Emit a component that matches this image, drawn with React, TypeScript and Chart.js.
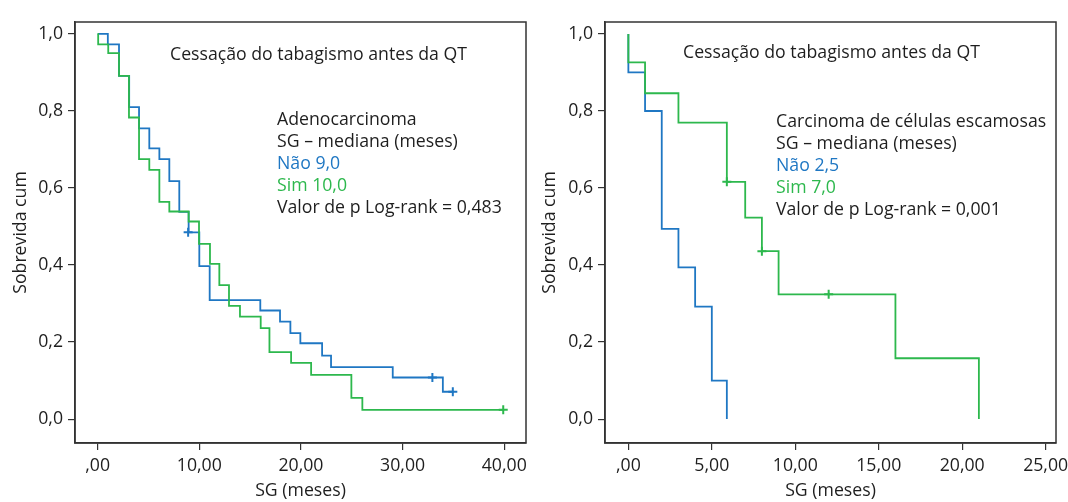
import React, { useEffect, useRef } from "react";
import { Chart, registerables } from "chart.js";

Chart.register(...registerables);

const FONT_FAMILY = "'Open Sans', sans-serif";
const FONT_SIZE = 17.7;
const BLUE = "#1f77c3";
const GREEN = "#2db84d";
const TEXT = "#1e1e1e";
const AXIS = "#333333";

// ---------- Shared ticks ----------
const yTickValues = [0, 0.2, 0.4, 0.6, 0.8, 1.0];
const leftXTickValues = [0, 10, 20, 30, 40];
const rightXTickValues = [0, 5, 10, 15, 20, 25];

// ---------- Left panel: Adenocarcinoma ----------
const adenoNaoTimes = [0, 1.0, 2.1, 3.1, 4.07, 5.08, 6.07, 7.05, 8.03, 8.95, 10.0, 11.02, 16.0, 17.94, 18.96, 19.94, 22.08, 22.96, 29.03, 33.96, 35.0];
const adenoNaoSurv = [1.0, 0.973, 0.891, 0.81, 0.755, 0.703, 0.675, 0.618, 0.538, 0.485, 0.397, 0.309, 0.282, 0.253, 0.223, 0.197, 0.165, 0.135, 0.108, 0.071, 0.071];
const adenoNaoCensorTimes = [8.9, 32.93, 34.94];
const adenoNaoCensorSurv = [0.485, 0.108, 0.071];

const adenoSimTimes = [0, 0.05, 1.04, 2.1, 3.08, 4.07, 5.08, 6.07, 7.05, 8.95, 9.97, 11.05, 11.97, 12.92, 14.0, 16.04, 16.9, 19.03, 21.0, 24.96, 26.04, 40.0];
const adenoSimSurv = [1.0, 0.973, 0.95, 0.891, 0.783, 0.675, 0.647, 0.564, 0.539, 0.513, 0.455, 0.403, 0.348, 0.294, 0.266, 0.236, 0.174, 0.146, 0.115, 0.055, 0.024, 0.024];
const adenoSimCensorTimes = [39.9];
const adenoSimCensorSurv = [0.024];

const adenoTexts = [
  "Adenocarcinoma",
  "SG \u2013 mediana (meses)",
  "N\u00e3o 9,0",
  "Sim 10,0",
  "Valor de p Log-rank = 0,483",
];

// ---------- Right panel: Carcinoma de células escamosas ----------
const escNaoTimes = [0, 0, 1, 2, 3, 4, 5, 5.9];
const escNaoSurv = [1.0, 0.9, 0.8, 0.494, 0.394, 0.292, 0.1, 0.0];
const escNaoCensorTimes: number[] = [];
const escNaoCensorSurv: number[] = [];

const escSimTimes = [0, 0, 1, 3, 5.9, 7, 8, 9, 16, 21];
const escSimSurv = [1.0, 0.926, 0.846, 0.77, 0.616, 0.523, 0.436, 0.324, 0.158, 0.0];
const escSimCensorTimes = [5.9, 8, 12];
const escSimCensorSurv = [0.616, 0.436, 0.324];

const escTexts = [
  "Carcinoma de c\u00e9lulas escamosas",
  "SG \u2013 mediana (meses)",
  "N\u00e3o 2,5",
  "Sim 7,0",
  "Valor de p Log-rank = 0,001",
];

const titleText = "Cessa\u00e7\u00e3o do tabagismo antes da QT";
const yAxisTitle = "Sobrevida cum";
const xAxisTitle = "SG (meses)";

const textColors = [TEXT, TEXT, BLUE, GREEN, TEXT];

type Panel = {
  left: number;
  xMin: number;
  xMax: number;
  xTicks: number[];
  yAxisWidth: number;
  padRight: number;
  yTitlePad: number;
  naoT: number[];
  naoS: number[];
  naoCT: number[];
  naoCS: number[];
  simT: number[];
  simS: number[];
  simCT: number[];
  simCS: number[];
  texts: string[];
  titleX: number;
  titleY: number;
  blockX: number;
  blockY: number;
  lineGap: number;
};

const panels: Panel[] = [
  {
    left: 0,
    xMin: -2.23,
    xMax: 42.14,
    xTicks: leftXTickValues,
    yAxisWidth: 75,
    padRight: 8,
    yTitlePad: 10,
    naoT: adenoNaoTimes,
    naoS: adenoNaoSurv,
    naoCT: adenoNaoCensorTimes,
    naoCS: adenoNaoCensorSurv,
    simT: adenoSimTimes,
    simS: adenoSimSurv,
    simCT: adenoSimCensorTimes,
    simCS: adenoSimCensorSurv,
    texts: adenoTexts,
    titleX: 170,
    titleY: 60,
    blockX: 277,
    blockY: 125,
    lineGap: 22,
  },
  {
    left: 534,
    xMin: -1.4,
    xMax: 25.62,
    xTicks: rightXTickValues,
    yAxisWidth: 71,
    padRight: 12,
    yTitlePad: 5,
    naoT: escNaoTimes,
    naoS: escNaoSurv,
    naoCT: escNaoCensorTimes,
    naoCS: escNaoCensorSurv,
    simT: escSimTimes,
    simS: escSimSurv,
    simCT: escSimCensorTimes,
    simCS: escSimCensorSurv,
    texts: escTexts,
    titleX: 149,
    titleY: 58,
    blockX: 242,
    blockY: 127,
    lineGap: 22,
  },
];

const toPoints = (t: number[], s: number[]) => t.map((x, i) => ({ x, y: s[i] }));

function KMPanel({ panel }: { panel: Panel }) {
  const ref = useRef<HTMLCanvasElement | null>(null);

  useEffect(() => {
    if (!ref.current) return;
    const framePlugin = {
      id: "frameAndText",
      afterDraw(chart: any) {
        const { ctx, chartArea } = chart;
        ctx.save();
        ctx.strokeStyle = AXIS;
        ctx.lineWidth = 1.5;
        ctx.strokeRect(chartArea.left, chartArea.top, chartArea.right - chartArea.left, chartArea.bottom - chartArea.top);
        ctx.font = `${FONT_SIZE}px ${FONT_FAMILY}`;
        ctx.textBaseline = "alphabetic";
        ctx.textAlign = "left";
        ctx.fillStyle = TEXT;
        ctx.fillText(titleText, panel.titleX, panel.titleY);
        panel.texts.forEach((t, i) => {
          ctx.fillStyle = textColors[i];
          ctx.fillText(t, panel.blockX, panel.blockY + i * panel.lineGap);
        });
        ctx.restore();
      },
    };

    // dataset index 0 is drawn on top in Chart.js, so green (Sim) goes first
    const chart = new Chart(ref.current, {
      type: "line",
      data: {
        datasets: [
          {
            type: "scatter",
            data: toPoints(panel.simCT, panel.simCS),
            borderColor: GREEN,
            backgroundColor: GREEN,
            pointStyle: "cross",
            pointRadius: 4.5,
            borderWidth: 2,
            showLine: false,
          },
          {
            type: "scatter",
            data: toPoints(panel.naoCT, panel.naoCS),
            borderColor: BLUE,
            backgroundColor: BLUE,
            pointStyle: "cross",
            pointRadius: 4.5,
            borderWidth: 2,
            showLine: false,
          },
          {
            type: "line",
            data: toPoints(panel.simT, panel.simS),
            borderColor: GREEN,
            borderWidth: 1.8,
            stepped: true,
            pointRadius: 0,
            fill: false,
          },
          {
            type: "line",
            data: toPoints(panel.naoT, panel.naoS),
            borderColor: BLUE,
            borderWidth: 1.8,
            stepped: true,
            pointRadius: 0,
            fill: false,
          },
        ] as any,
      },
      options: {
        animation: false,
        responsive: false,
        maintainAspectRatio: false,
        layout: { padding: { left: 0, right: panel.padRight, top: 22, bottom: 0 } },
        plugins: { legend: { display: false }, tooltip: { enabled: false } },
        scales: {
          x: {
            type: "linear",
            min: panel.xMin,
            max: panel.xMax,
            afterBuildTicks: (scale: any) => {
              scale.ticks = panel.xTicks.map((v) => ({ value: v }));
            },
            afterFit: (scale: any) => {
              scale.height = 59;
              scale.paddingLeft = 0;
              scale.paddingRight = 0;
            },
            grid: { display: true, drawOnChartArea: false, drawTicks: true, tickLength: 7, color: AXIS, lineWidth: 1.2 },
            border: { display: true, color: AXIS, width: 1.5 },
            ticks: {
              color: TEXT,
              padding: 5,
              maxRotation: 0,
              font: { family: FONT_FAMILY, size: FONT_SIZE },
              callback: (v: any) => (Number(v) === 0 ? ",00" : Number(v).toFixed(2).replace(".", ",")),
            },
            title: {
              display: true,
              text: xAxisTitle,
              color: TEXT,
              font: { family: FONT_FAMILY, size: FONT_SIZE },
              padding: { top: 0, bottom: 0 },
            },
          },
          y: {
            type: "linear",
            min: -0.062,
            max: 1.031,
            afterBuildTicks: (scale: any) => {
              scale.ticks = yTickValues.map((v) => ({ value: v }));
            },
            afterFit: (scale: any) => {
              scale.width = panel.yAxisWidth;
              scale.paddingTop = 0;
              scale.paddingBottom = 0;
            },
            grid: { display: true, drawOnChartArea: false, drawTicks: true, tickLength: 7, color: AXIS, lineWidth: 1.2 },
            border: { display: true, color: AXIS, width: 1.5 },
            ticks: {
              color: TEXT,
              padding: 5,
              font: { family: FONT_FAMILY, size: FONT_SIZE },
              callback: (v: any) => Number(v).toFixed(1).replace(".", ","),
            },
            title: {
              display: true,
              text: yAxisTitle,
              color: TEXT,
              font: { family: FONT_FAMILY, size: FONT_SIZE },
              padding: { top: panel.yTitlePad, bottom: 0 },
            },
          },
        },
      } as any,
      plugins: [framePlugin],
    });
    return () => chart.destroy();
  }, [panel]);

  return (
    <canvas
      ref={ref}
      width={534}
      height={502}
      style={{ position: "absolute", left: panel.left, top: 0, width: 534, height: 502 }}
    />
  );
}

export default function App() {
  return (
    <div style={{ position: "fixed", left: 0, top: 0, width: 1068, height: 502, background: "#ffffff" }}>
      {panels.map((p, i) => (
        <KMPanel key={i} panel={p} />
      ))}
    </div>
  );
}
